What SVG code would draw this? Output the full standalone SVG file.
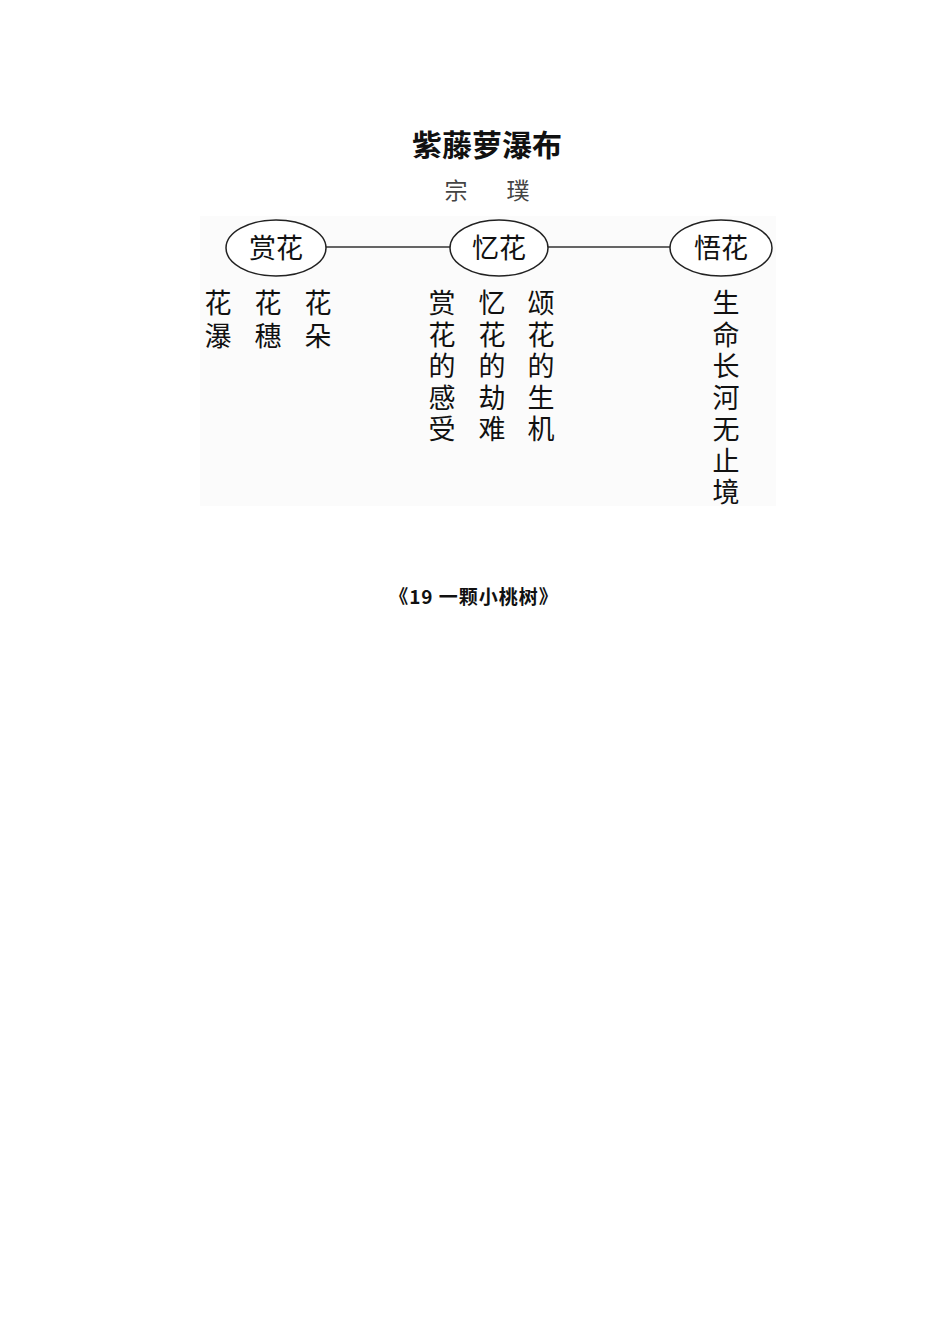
<svg xmlns="http://www.w3.org/2000/svg" width="950" height="1344" viewBox="0 0 950 1344">
<style>
.t{font-family:"Noto Sans CJK SC","Noto Sans",sans-serif;fill:#111;}
.title{font-size:30px;font-weight:bold;}
.author{font-size:23px;fill:#444;}
.node{fill:#fff;stroke:#222;stroke-width:1.5;}
.nl{font-size:27px;text-anchor:middle;}
.col{font-size:27px;text-anchor:middle;}
.cap{font-size:19px;font-weight:bold;text-anchor:middle;letter-spacing:1px;}
.edge{stroke:#333;stroke-width:1.5;fill:none;}
</style>
<rect x="0" y="0" width="950" height="1344" fill="#fff"/>
<rect x="200" y="216" width="576" height="290" fill="#fbfbfb"/>
<text class="t title" x="487" y="156" text-anchor="middle">紫藤萝瀑布</text>
<text class="t author" x="456" y="199" text-anchor="middle">宗</text>
<text class="t author" x="518" y="199" text-anchor="middle">璞</text>
<g id="connectors">
<line class="edge" x1="326" y1="247" x2="450" y2="247"/>
<line class="edge" x1="548" y1="247" x2="670" y2="247"/>
</g>
<g id="node-shanghua">
<ellipse class="node" cx="276" cy="248" rx="50" ry="28"/>
<text class="t nl" x="276" y="258">赏花</text>
</g>
<g id="node-yihua">
<ellipse class="node" cx="499" cy="248" rx="49" ry="28"/>
<text class="t nl" x="499" y="258">忆花</text>
</g>
<g id="node-wuhua">
<ellipse class="node" cx="721" cy="248" rx="51" ry="28"/>
<text class="t nl" x="721" y="258">悟花</text>
</g>
<g id="list-shanghua">
<text class="t col"><tspan x="218" y="313">花</tspan><tspan x="218" y="346">瀑</tspan></text>
<text class="t col"><tspan x="268" y="313">花</tspan><tspan x="268" y="346">穗</tspan></text>
<text class="t col"><tspan x="318" y="313">花</tspan><tspan x="318" y="346">朵</tspan></text>
</g>
<g id="list-yihua">
<text class="t col"><tspan x="442" y="313">赏</tspan><tspan x="442" y="345">花</tspan><tspan x="442" y="376">的</tspan><tspan x="442" y="408">感</tspan><tspan x="442" y="439">受</tspan></text>
<text class="t col"><tspan x="492" y="313">忆</tspan><tspan x="492" y="345">花</tspan><tspan x="492" y="376">的</tspan><tspan x="492" y="408">劫</tspan><tspan x="492" y="439">难</tspan></text>
<text class="t col"><tspan x="541" y="313">颂</tspan><tspan x="541" y="345">花</tspan><tspan x="541" y="376">的</tspan><tspan x="541" y="408">生</tspan><tspan x="541" y="439">机</tspan></text>
</g>
<g id="list-wuhua">
<text class="t col"><tspan x="726" y="313">生</tspan><tspan x="726" y="345">命</tspan><tspan x="726" y="376">长</tspan><tspan x="726" y="408">河</tspan><tspan x="726" y="439">无</tspan><tspan x="726" y="471">止</tspan><tspan x="726" y="502">境</tspan></text>
</g>
<text class="t cap" x="474" y="604">《19 一颗小桃树》</text>
</svg>
